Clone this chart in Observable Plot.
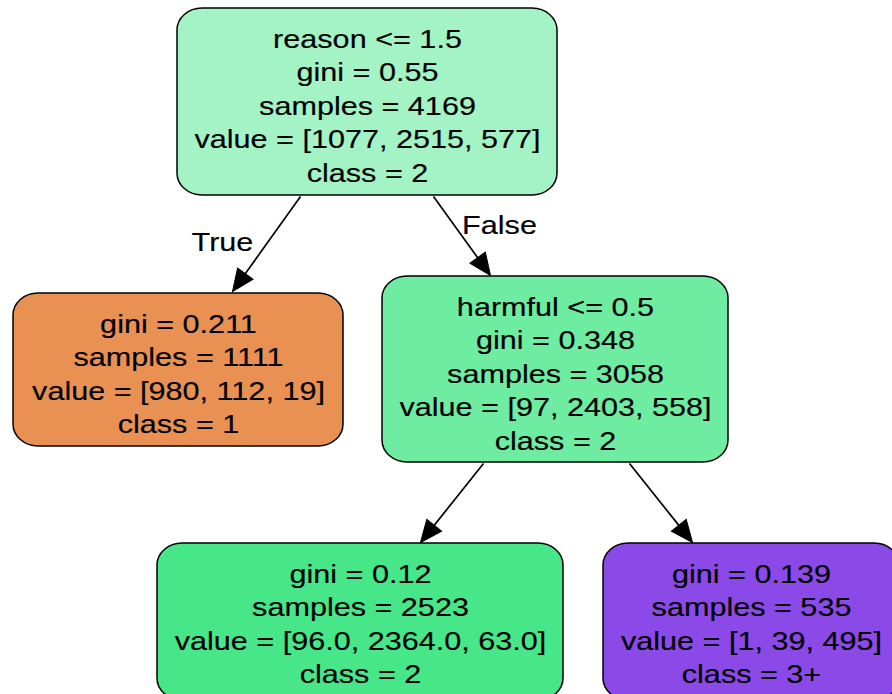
<!DOCTYPE html>
<html>
<head>
<meta charset="utf-8">
<script src="https://cdn.jsdelivr.net/npm/d3@7"></script>
<script src="https://cdn.jsdelivr.net/npm/@observablehq/plot@0.6"></script>
<style>
  html, body { margin: 0; padding: 0; background: #ffffff; }
  #chart { width: 892px; height: 694px; overflow: hidden; }
</style>
</head>
<body>
<div id="chart"></div>
<script>
// ---- Data (decision tree nodes) ----
const nodeIds   = ["root", "left", "right", "rightLeft", "rightRight"];
const splitRule = ["reason <= 1.5", null, "harmful <= 0.5", null, null];
const giniVals  = ["0.55", "0.211", "0.348", "0.12", "0.139"];
const samples   = [4169, 1111, 3058, 2523, 535];
const valueVecs = ["[1077, 2515, 577]", "[980, 112, 19]", "[97, 2403, 558]", "[96.0, 2364.0, 63.0]", "[1, 39, 495]"];
const classLbl  = ["2", "1", "2", "2", "3+"];
const edgeFrom  = [0, 0, 2, 2];
const edgeTo    = [1, 2, 3, 4];
const edgeLabel = ["True", "False", "", ""];

// ---- Layout (graph drawing positions, in pixels) ----
const boxLayout = [
  {x0: 177, x1: 557, y0: 8,   y1: 195},
  {x0: 13,  x1: 343, y0: 293, y1: 446},
  {x0: 382, x1: 728, y0: 276, y1: 462},
  {x0: 157, x1: 563, y0: 543, y1: 700},
  {x0: 603, x1: 899, y0: 543, y1: 700}
];
const textCenterX = [367, 178, 555, 360, 751];
const edgeLayout = [
  {sx: 300, sy: 196, tx: 232, ty: 291},
  {sx: 433, sy: 196, tx: 490, ty: 275},
  {sx: 483, sy: 463, tx: 420, ty: 542},
  {sx: 629, sy: 463, tx: 692, ty: 542}
];
const edgeLabelPos = [{x: 222, y: 250}, {x: 499, y: 233}, null, null];

// ---- Styles ----
const nodeFill = ["#a3f3c5", "#e89153", "#6deca2", "#47e789", "#8b49e7"];
const FONT = "'Liberation Sans', Arial, Helvetica, sans-serif";
const FS = 25.5, LINE = 33.4, FIRST = 39.5, XSTRETCH = 1.2;

// ---- Build tables ----
const nodes = nodeIds.map((id, i) => ({id, ...boxLayout[i], fill: nodeFill[i]}));
const textRows = [];
nodeIds.forEach((id, i) => {
  const lines = [];
  if (splitRule[i]) lines.push(splitRule[i]);
  lines.push(`gini = ${giniVals[i]}`);
  lines.push(`samples = ${samples[i]}`);
  lines.push(`value = ${valueVecs[i]}`);
  lines.push(`class = ${classLbl[i]}`);
  lines.forEach((t, k) => textRows.push({x: textCenterX[i], y: boxLayout[i].y0 + FIRST + LINE * k, text: t}));
});
const edges = edgeFrom.map((f, i) => {
  const e = edgeLayout[i];
  const dx = e.tx - e.sx, dy = e.ty - e.sy;
  const len = Math.hypot(dx, dy);
  const headLen = 22;
  return {
    from: nodeIds[f], to: nodeIds[edgeTo[i]],
    x1: e.sx, y1: e.sy,
    x2: e.tx - dx / len * (headLen - 2), y2: e.ty - dy / len * (headLen - 2),
    tx: e.tx, ty: e.ty,
    angle: Math.atan2(dx, -dy) * 180 / Math.PI
  };
});
const labels = edgeLabel.map((t, i) => t ? {text: t, ...edgeLabelPos[i]} : null).filter(Boolean);

// arrowhead symbol: tip at origin, pointing up (-y)
const arrowHead = {
  draw(ctx) {
    ctx.moveTo(0, 0);
    ctx.lineTo(-9.5, 22);
    ctx.lineTo(9.5, 22);
    ctx.closePath();
  }
};

const chart = Plot.plot({
  width: 892,
  height: 694,
  margin: 0,
  x: {domain: [0, 892], range: [0, 892], axis: null},
  y: {domain: [0, 694], range: [0, 694], axis: null},
  style: {background: "#ffffff", fontFamily: FONT},
  marks: [
    Plot.link(edges, {x1: "x1", y1: "y1", x2: "x2", y2: "y2", stroke: "#000", strokeWidth: 1.7}),
    Plot.dot(edges, {x: "tx", y: "ty", symbol: arrowHead, rotate: "angle", fill: "#000", stroke: "#000", strokeWidth: 1, r: 5}),
    Plot.rect(nodes, {x1: "x0", x2: "x1", y1: "y0", y2: "y1", fill: "fill", stroke: "#000", strokeWidth: 1.5, rx: 25, ry: 22}),
    Plot.text(textRows, {x: "x", y: "y", text: "text", fontSize: FS, fill: "#000", stroke: "#000", strokeWidth: 0.15, lineAnchor: "bottom", textAnchor: "middle", fontFamily: FONT}),
    Plot.text(labels, {x: "x", y: "y", text: "text", fontSize: FS, fill: "#000", stroke: "#000", strokeWidth: 0.15, lineAnchor: "bottom", textAnchor: "middle", fontFamily: FONT})
  ]
});

// graphviz output was stretched horizontally: widen glyphs the same way
chart.querySelectorAll("text").forEach(t => {
  const tr = t.getAttribute("transform");
  if (tr) {
    t.setAttribute("transform", tr + ` scale(${XSTRETCH},1)`);
  } else {
    const x = +t.getAttribute("x") || 0, y = +t.getAttribute("y") || 0;
    t.removeAttribute("x"); t.removeAttribute("y");
    t.setAttribute("transform", `translate(${x},${y}) scale(${XSTRETCH},1)`);
  }
});

document.getElementById("chart").appendChild(chart);
</script>
</body>
</html>
